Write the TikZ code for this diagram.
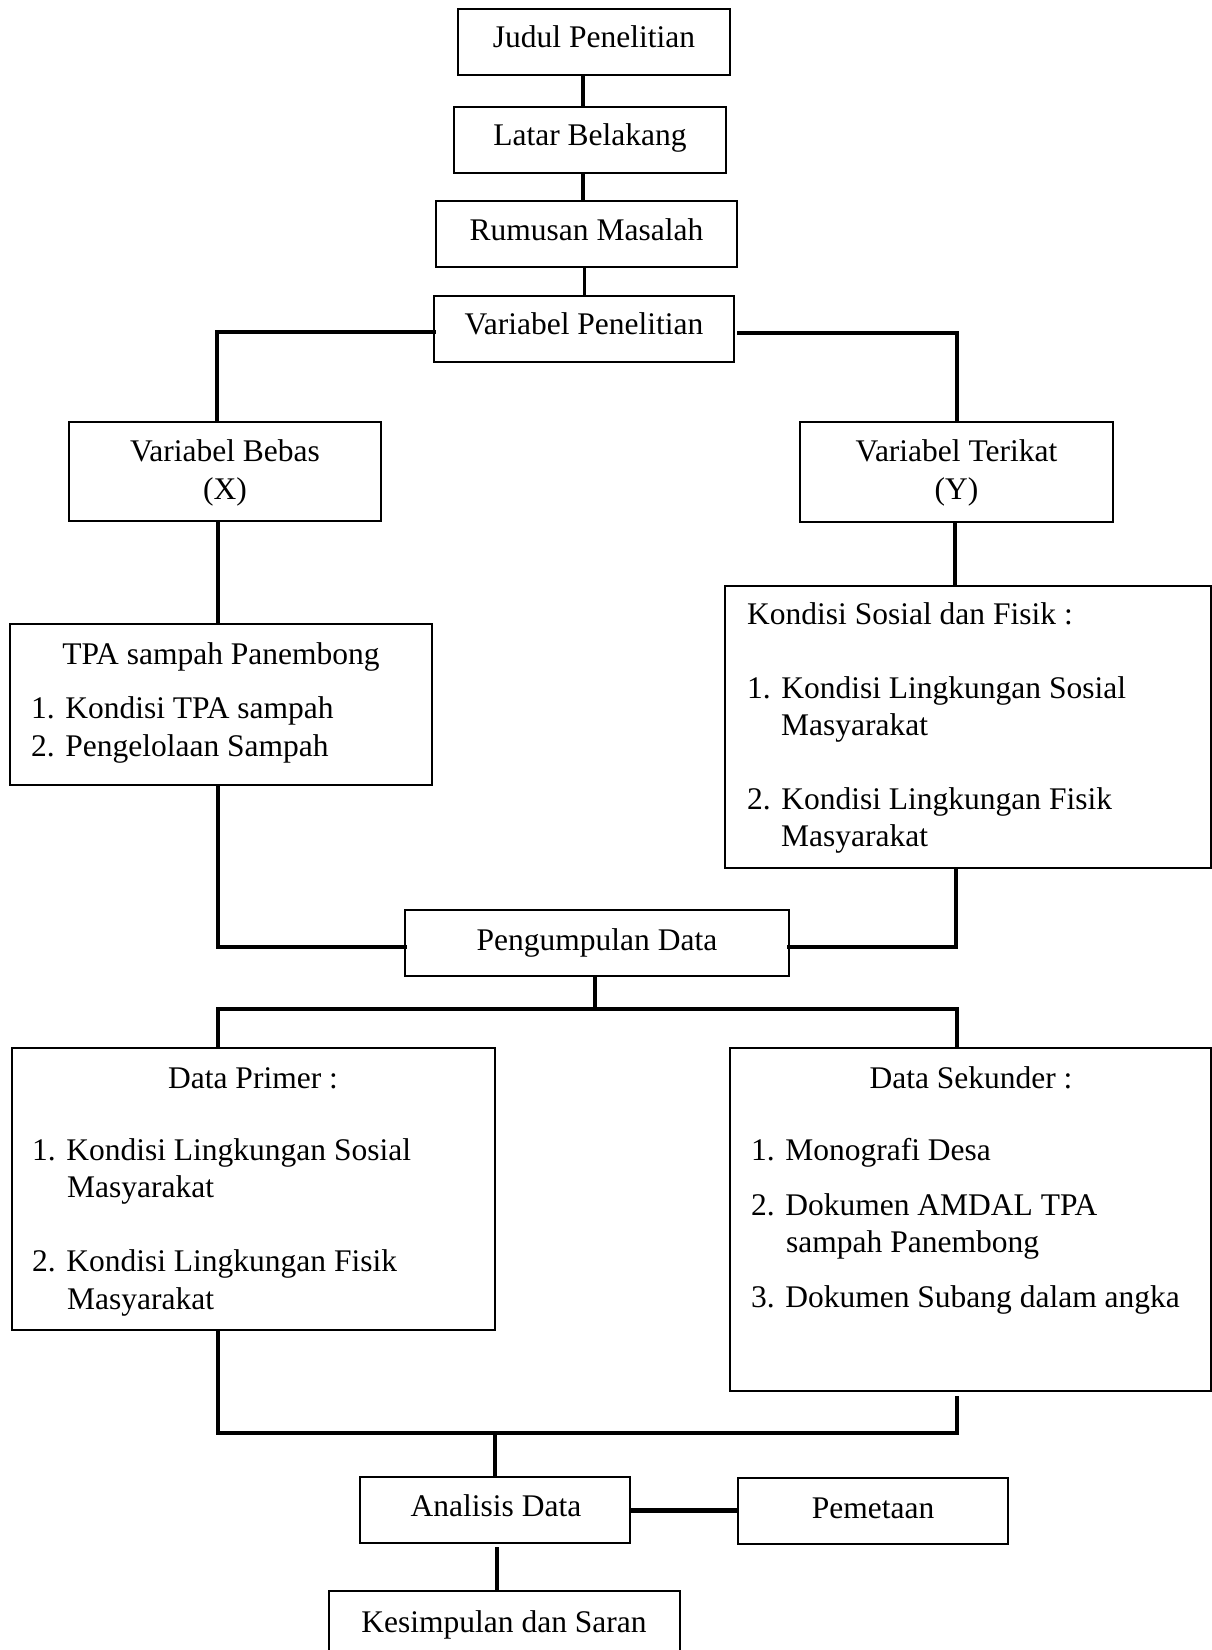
\documentclass[tikz,border=0pt]{standalone}
\usepackage{fontspec}
\setmainfont{Liberation Serif}
\usetikzlibrary{calc}
\begin{document}
\begin{tikzpicture}[x=1pt,y=-1pt,
  bx/.style={draw, line width=1.2pt, inner sep=0pt, outer sep=0pt},
  vconn/.style={line width=3.6pt},
  hconn/.style={line width=4.8pt, line cap=rect},
  txt/.style={inner sep=0pt, font=\fontsize{31.5}{36}\selectfont}]
\useasboundingbox (0,0) rectangle (1211,1650);
% boxes
\node[bx, minimum width=272pt, minimum height=66pt] (judul) at (594,42) {};
\node[bx, minimum width=272pt, minimum height=66pt] (latar) at (590,140) {};
\node[bx, minimum width=301pt, minimum height=66pt] (rumusan) at (586.5,234) {};
\node[bx, minimum width=300pt, minimum height=66pt] (varpen) at (584,329) {};
\node[bx, minimum width=312pt, minimum height=99pt] (bebas) at (225,471.5) {};
\node[bx, minimum width=313pt, minimum height=100pt] (terikat) at (956.5,472) {};
\node[bx, minimum width=422pt, minimum height=161pt] (tpa) at (221,704.5) {};
\node[bx, minimum width=486pt, minimum height=282pt] (kondisi) at (968,727) {};
\node[bx, minimum width=384pt, minimum height=66pt] (kumpul) at (597,943) {};
\node[bx, minimum width=483pt, minimum height=282pt] (primer) at (253.5,1189) {};
\node[bx, minimum width=481pt, minimum height=343pt] (sekunder) at (970.5,1219.5) {};
\node[bx, minimum width=270pt, minimum height=66pt] (analisis) at (495,1510) {};
\node[bx, minimum width=270pt, minimum height=66pt] (pemetaan) at (873,1511) {};
\node[bx, minimum width=351pt, minimum height=74pt] (kesimpulan) at (504.5,1628) {};
% texts
\node[txt, anchor=base] (t1) at (594,47) {Judul Penelitian};
\node[txt, anchor=base] (t2) at (590,145) {Latar Belakang};
\node[txt, anchor=base] (t3) at (586.5,240) {Rumusan Masalah};
\node[txt, anchor=base] (t4) at (584,334) {Variabel Penelitian};
\node[txt, anchor=base] (t5) at (225,461) {Variabel Bebas};
\node[txt, anchor=base] (t6) at (225,499) {(X)};
\node[txt, anchor=base] (t7) at (956.5,461) {Variabel Terikat};
\node[txt, anchor=base] (t8) at (956.5,499) {(Y)};
\node[txt, anchor=base] (t9) at (221,664) {TPA sampah Panembong};
\node[txt, anchor=base west] (t10) at (31,718) {1. Kondisi TPA sampah};
\node[txt, anchor=base west] (t11) at (31,756) {2. Pengelolaan Sampah};
\node[txt, anchor=base west] (t12) at (747,624) {Kondisi Sosial dan Fisik :};
\node[txt, anchor=base west] (t13) at (747,698.5) {1. Kondisi Lingkungan Sosial};
\node[txt, anchor=base west] (t14) at (781,735) {Masyarakat};
\node[txt, anchor=base west] (t15) at (747,809) {2. Kondisi Lingkungan Fisik};
\node[txt, anchor=base west] (t16) at (781,846) {Masyarakat};
\node[txt, anchor=base] (t17) at (597,950) {Pengumpulan Data};
\node[txt, anchor=base] (t18) at (253,1088) {Data Primer :};
\node[txt, anchor=base west] (t19) at (32,1160.5) {1. Kondisi Lingkungan Sosial};
\node[txt, anchor=base west] (t20) at (67,1197) {Masyarakat};
\node[txt, anchor=base west] (t21) at (32,1271.5) {2. Kondisi Lingkungan Fisik};
\node[txt, anchor=base west] (t22) at (67,1309) {Masyarakat};
\node[txt, anchor=base] (t23) at (971,1088) {Data Sekunder :};
\node[txt, anchor=base west] (t24) at (751,1160.5) {1. Monografi Desa};
\node[txt, anchor=base west] (t25) at (751,1215.5) {2. Dokumen AMDAL TPA};
\node[txt, anchor=base west] (t26) at (786,1252) {sampah Panembong};
\node[txt, anchor=base west] (t27) at (751,1307.5) {3. Dokumen Subang dalam angka};
\node[txt, anchor=base] (t28) at (496,1516) {Analisis Data};
\node[txt, anchor=base] (t29) at (873,1518) {Pemetaan};
\node[txt, anchor=base] (t30) at (504,1632) {Kesimpulan dan Saran};
% junction coordinates
\coordinate (cVL) at (217,332);
\coordinate (cVR) at (957,333);
\coordinate (cPL) at (218,947);
\coordinate (cPR) at (956,947);
\coordinate (sL) at (218,1009);
\coordinate (sR) at (957,1009);
\coordinate (split) at (595,1009);
\coordinate (mL) at (218,1433);
\coordinate (mR) at (957,1433);
\coordinate (merge) at (495,1433);
% connectors
\draw[vconn] (583,0 |- judul.south) -- (583,0 |- latar.north);
\draw[vconn] (583,0 |- latar.south) -- (583,0 |- rumusan.north);
\draw[vconn] (584.5,0 |- rumusan.south) -- (584.5,0 |- varpen.north);
\draw[hconn] ([yshift=-3pt]varpen.west) -- (cVL);
\draw[vconn] (cVL) -- (cVL |- bebas.north);
\draw[hconn] ([xshift=5pt,yshift=-4pt]varpen.east) -- (cVR);
\draw[vconn] (cVR) -- (cVR |- terikat.north);
\draw[vconn] (218,0 |- bebas.south) -- (218,0 |- tpa.north);
\draw[vconn] (955,0 |- terikat.south) -- (955,0 |- kondisi.north);
\draw[vconn] (cPL |- tpa.south) -- (cPL);
\draw[hconn] (cPL) -- ([yshift=-4pt]kumpul.west);
\draw[vconn] (cPR |- kondisi.south) -- (cPR);
\draw[hconn] (cPR) -- ([yshift=-4pt]kumpul.east);
\draw[vconn] (595,0 |- kumpul.south) -- (split);
\draw[hconn] (sL) -- (sR);
\draw[vconn] (sL) -- (sL |- primer.north);
\draw[vconn] (sR) -- (sR |- sekunder.north);
\draw[vconn] (mL |- primer.south) -- (mL);
\draw[vconn] ($(mR |- sekunder.south)+(0,5)$) -- (mR);
\draw[hconn] (mL) -- (mR);
\draw[vconn] (merge) -- (analisis.north);
\draw[line width=5pt] (analisis.east) -- (analisis.east -| pemetaan.west);
\draw[vconn] ($(analisis.south)+(2,4)$) -- (497,0 |- kesimpulan.north);
\end{tikzpicture}
\end{document}
